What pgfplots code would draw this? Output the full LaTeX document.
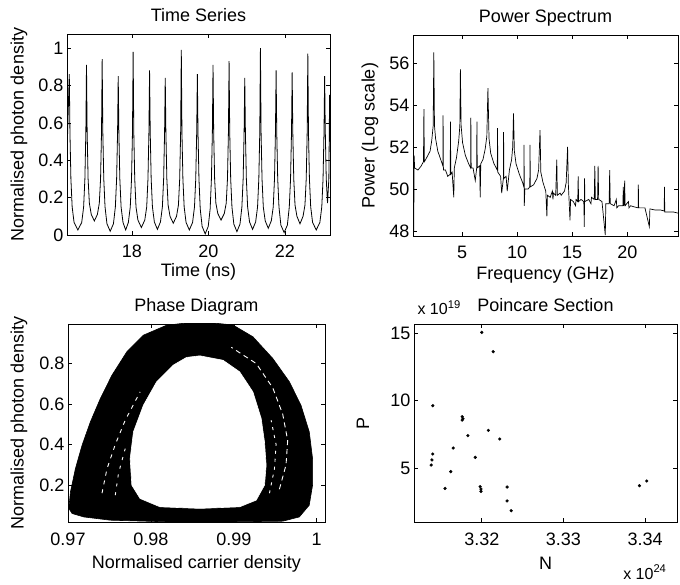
\documentclass[border=0pt]{standalone}
\usepackage{fontspec}
\setmainfont{Liberation Sans}
\usepackage{pgfplots}
\pgfplotsset{compat=1.18}
\pgfplotsset{
  myax/.style={
    scale only axis,
    font=\fontsize{18}{21}\selectfont,
    tick label style={font=\fontsize{18}{21}\selectfont},
    /pgf/number format/assume math mode=true,
    scaled ticks=false,
    axis line style={line width=0.9pt},
    tick style={line width=0.6pt, black},
    major tick length=4pt,
    title style={at={(axis description cs:0.5,1)}, anchor=base, yshift=6pt},
    xticklabel style={anchor=base, yshift=-23pt},
  }
}
\begin{document}
\begin{tikzpicture}
\path[use as bounding box] (0,0) rectangle (680pt,584pt);
% ---------------- Time series
\begin{axis}[myax, at={(67pt,349pt)}, anchor=south west, width=263pt, height=201pt,
  xmin=16.3, xmax=23.18, ymin=0, ymax=1.075,
  xtick={18,20,22}, ytick={0,0.2,0.4,0.6,0.8,1},
  title={Time Series},
  xlabel={Time (ns)}, xlabel style={at={(axis description cs:0.5,0)}, anchor=base, yshift=-42pt},
  ylabel={Normalised photon density}, ylabel style={at={(axis description cs:-0.1825,0.5)}, anchor=center},
]
\addplot[black, line width=0.8pt] table {
16.30 0.42
16.33 0.65
16.36 0.86
16.377 0.55
16.402 0.30
16.435 0.15
16.485 0.067
16.585 0.027
16.685 0.067
16.735 0.15
16.768 0.30
16.793 0.55
16.81 0.91
16.827 0.55
16.852 0.30
16.885 0.17
16.935 0.11
17.015 0.075
17.095 0.11
17.145 0.17
17.178 0.30
17.203 0.55
17.22 0.94
17.237 0.55
17.262 0.30
17.295 0.15
17.345 0.06
17.43 0.02
17.515 0.06
17.565 0.15
17.598 0.30
17.623 0.55
17.64 0.85
17.657 0.55
17.682 0.30
17.715 0.15
17.765 0.067
17.835 0.027
17.905 0.067
17.955 0.15
17.988 0.30
18.013 0.55
18.03 0.98
18.047 0.55
18.072 0.30
18.105 0.15
18.155 0.08
18.245 0.04
18.335 0.08
18.385 0.15
18.418 0.30
18.443 0.55
18.46 0.88
18.477 0.55
18.502 0.30
18.535 0.15
18.585 0.07
18.665 0.03
18.745 0.07
18.795 0.15
18.828 0.30
18.853 0.55
18.87 0.84
18.887 0.55
18.912 0.30
18.945 0.16
18.995 0.10
19.08 0.063
19.165 0.10
19.215 0.16
19.248 0.30
19.273 0.55
19.29 0.99
19.307 0.55
19.332 0.30
19.365 0.15
19.415 0.067
19.50 0.027
19.585 0.067
19.635 0.15
19.668 0.30
19.693 0.55
19.71 0.86
19.727 0.55
19.752 0.30
19.785 0.14
19.835 0.046
19.915 0.006
19.995 0.046
20.045 0.14
20.078 0.30
20.103 0.55
20.12 0.91
20.137 0.55
20.162 0.30
20.195 0.17
20.245 0.115
20.33 0.08
20.415 0.115
20.465 0.17
20.498 0.30
20.523 0.55
20.54 0.93
20.557 0.55
20.582 0.30
20.615 0.15
20.665 0.058
20.745 0.018
20.825 0.058
20.875 0.15
20.908 0.30
20.933 0.55
20.95 0.84
20.967 0.55
20.992 0.30
21.025 0.15
21.075 0.07
21.155 0.03
21.235 0.07
21.285 0.15
21.318 0.30
21.343 0.55
21.36 1.00
21.377 0.55
21.402 0.30
21.435 0.15
21.485 0.076
21.565 0.036
21.645 0.076
21.695 0.15
21.728 0.30
21.753 0.55
21.77 0.88
21.787 0.55
21.812 0.30
21.845 0.15
21.895 0.053
21.98 0.013
22.065 0.053
22.115 0.15
22.148 0.30
22.173 0.55
22.19 0.87
22.207 0.55
22.232 0.30
22.265 0.16
22.315 0.10
22.395 0.06
22.475 0.10
22.525 0.16
22.558 0.30
22.583 0.55
22.60 0.97
22.617 0.55
22.642 0.30
22.675 0.15
22.725 0.067
22.82 0.027
22.915 0.067
22.965 0.15
22.998 0.30
23.023 0.55
23.04 0.85
23.057 0.55
23.082 0.30
23.115 0.17
23.15 0.30
23.17 0.75
23.18 0.50
};
\end{axis}
% ---------------- Power spectrum
\begin{axis}[myax, at={(413pt,348pt)}, anchor=south west, width=265pt, height=201pt,
  xmin=0.55, xmax=24.6, ymin=47.76, ymax=57.33,
  xtick={5,10,15,20}, ytick={48,50,52,54,56},
  title={Power Spectrum},
  xlabel={Frequency (GHz)}, xlabel style={at={(axis description cs:0.5,0)}, anchor=base, yshift=-44pt},
  ylabel={Power (Log scale)}, ylabel style={at={(axis description cs:-0.162,0.5)}, anchor=center},
]
\addplot[black, line width=0.7pt] table {
0.55 51.0
0.60 52.0
0.62 48.0
0.65 51.6
0.70 51.0
1.00 50.9
1.30 51.1
1.50 51.3
1.54 53.8
1.58 51.3
1.70 51.4
1.90 51.6
2.10 51.8
2.25 52.3
2.38 53.0
2.44 56.5
2.50 53.0
2.60 52.4
2.80 51.8
3.00 51.5
3.26 51.1
3.28 53.5
3.31 50.9
3.50 50.9
3.70 50.6
3.93 50.7
3.95 53.2
3.98 50.7
4.10 50.8
4.25 49.6
4.30 51.0
4.50 51.5
4.70 52.3
4.80 53.0
4.85 55.7
4.92 53.0
5.05 52.2
5.30 51.6
5.60 51.2
5.78 51.0
5.80 53.4
5.83 51.0
6.00 51.0
6.20 50.4
6.33 51.0
6.35 53.2
6.38 51.0
6.60 51.1
6.65 49.6
6.70 51.2
6.90 51.4
7.10 51.9
7.25 52.5
7.35 54.8
7.45 52.4
7.60 51.7
7.90 51.2
8.20 50.9
8.22 52.9
8.25 50.8
8.50 50.6
8.60 49.8
8.75 50.5
8.77 52.7
8.80 50.5
9.00 50.6
9.10 49.9
9.30 50.9
9.50 51.4
9.60 52.0
9.67 53.6
9.75 51.8
9.90 51.2
10.20 50.7
10.50 50.3
10.61 50.1
10.63 52.1
10.65 49.2
10.70 50.0
11.00 50.0
11.15 50.1
11.17 52.1
11.20 50.1
11.50 50.2
11.80 50.5
11.95 50.9
12.08 52.8
12.15 50.8
12.35 50.3
12.60 49.9
12.70 48.7
12.75 49.7
13.00 49.6
13.20 49.9
13.25 49.5
13.30 49.8
13.50 49.7
13.60 51.4
13.65 49.7
13.90 49.8
14.00 49.7
14.30 49.9
14.45 50.3
14.58 52.0
14.65 50.2
14.80 48.5
14.85 49.5
15.10 49.4
15.30 49.2
15.35 49.5
15.50 49.4
15.54 50.6
15.58 49.4
15.80 49.5
16.05 49.4
16.10 48.2
16.12 50.5
16.15 49.4
16.50 49.5
16.70 49.3
16.75 49.6
17.00 49.5
17.05 51.1
17.10 49.5
17.30 49.5
17.35 51.1
17.40 49.5
17.70 49.4
18.00 47.8
18.05 49.3
18.35 49.3
18.40 50.9
18.45 49.3
18.80 49.2
19.00 49.5
19.05 49.1
19.20 49.2
19.60 49.2
19.63 50.1
19.70 49.2
19.76 50.4
19.80 49.2
20.10 49.4
20.15 49.1
20.30 49.2
20.60 49.15
20.98 49.1
21.00 50.2
21.03 49.1
21.60 49.1
22.00 48.2
22.05 49.05
22.50 49.0
23.00 49.0
23.35 48.95
23.37 50.1
23.40 48.9
23.80 48.9
24.20 48.9
24.60 48.85
};
\end{axis}
% ---------------- Phase diagram
\begin{axis}[myax, at={(68pt,62pt)}, anchor=south west, width=257pt, height=198pt,
  xmin=0.97, xmax=1.0010, ymin=0.018, ymax=0.995,
  xtick={0.97,0.98,0.99,1}, ytick={0.2,0.4,0.6,0.8},
  xticklabel style={/pgf/number format/fixed, /pgf/number format/precision=2},
  title={Phase Diagram},
  xlabel={Normalised carrier density}, xlabel style={at={(axis description cs:0.5,0)}, anchor=base, yshift=-46pt},
  ylabel={Normalised photon density}, ylabel style={at={(axis description cs:-0.191,0.5)}, anchor=center},
]
\addplot[black, fill=black, line width=0.6pt] table {
0.9701 0.085
0.9703 0.167
0.9709 0.282
0.9717 0.397
0.9727 0.512
0.9739 0.627
0.9753 0.742
0.9771 0.858
0.9791 0.940
0.9819 0.989
0.9843 1.000
0.9875 1.000
0.9899 0.990
0.9923 0.932
0.9947 0.825
0.9967 0.710
0.9981 0.594
0.9991 0.463
0.9995 0.331
0.9995 0.200
0.9991 0.101
0.9979 0.043
0.9959 0.022
0.9899 0.019
0.9819 0.019
0.9751 0.027
0.9719 0.043
0.9705 0.060
0.9701 0.085
};
\addplot[white, fill=white, line width=0.6pt] table {
0.9859 0.838
0.9887 0.816
0.9907 0.759
0.9923 0.660
0.9933 0.529
0.9937 0.413
0.9939 0.298
0.9937 0.200
0.9927 0.126
0.9907 0.093
0.9859 0.085
0.9811 0.093
0.9787 0.134
0.9777 0.200
0.9775 0.331
0.9779 0.463
0.9791 0.594
0.9807 0.710
0.9827 0.792
0.9843 0.830
0.9859 0.838
};
\addplot[white, line width=0.9pt, dash pattern=on 4pt off 5pt] table {
0.9741 0.16
0.9747 0.28
0.9757 0.40
0.9769 0.52
0.9787 0.66
};
\addplot[white, line width=0.9pt, dash pattern=on 3pt off 6pt] table {
0.9757 0.15
0.9761 0.26
0.9769 0.38
};
\addplot[white, line width=0.9pt, dash pattern=on 5pt off 4pt] table {
0.9955 0.18
0.9963 0.30
0.9965 0.42
0.9959 0.55
0.9947 0.68
0.9927 0.80
0.9897 0.88
};
\addplot[white, line width=0.9pt, dash pattern=on 3pt off 5pt] table {
0.9943 0.16
0.9949 0.28
0.9951 0.40
0.9945 0.52
};
\end{axis}
% ---------------- Poincare section
\begin{axis}[myax, at={(414pt,62pt)}, anchor=south west, width=263pt, height=198pt,
  xmin=3.3117, xmax=3.3439, ymin=1.0, ymax=15.67,
  xtick={3.32,3.33,3.34}, ytick={5,10,15},
  xticklabel style={/pgf/number format/fixed, /pgf/number format/precision=2},
  title={Poincare Section},
  xlabel={N}, xlabel style={at={(axis description cs:0.5,0)}, anchor=base, yshift=-47pt},
  ylabel={P}, ylabel style={at={(axis description cs:-0.194,0.5)}, anchor=center},
  clip=false,
]
\addplot[only marks, mark=*, mark size=1.4pt, black] table {
3.3200 15.05
3.3214 13.62
3.3140 9.62
3.3176 8.80
3.3177 8.65
3.3176 8.55
3.3183 7.40
3.3208 7.79
3.3222 7.15
3.3165 6.48
3.3140 6.04
3.3139 5.60
3.3138 5.22
3.3192 5.79
3.3162 4.73
3.3155 3.49
3.3198 3.62
3.3199 3.44
3.3199 3.27
3.3231 3.59
3.3231 2.56
3.3236 1.84
3.3393 3.69
3.3402 4.04
};
\node[anchor=base west, font=\fontsize{16}{19}\selectfont] at (rel axis cs:0,1) [yshift=9pt, xshift=0pt] {x 10\textsuperscript{19}};
\node[anchor=base east, font=\fontsize{16}{19}\selectfont] at (rel axis cs:1,0) [yshift=-57pt, xshift=-7pt] {x 10\textsuperscript{24}};
\end{axis}
\end{tikzpicture}
\end{document}
